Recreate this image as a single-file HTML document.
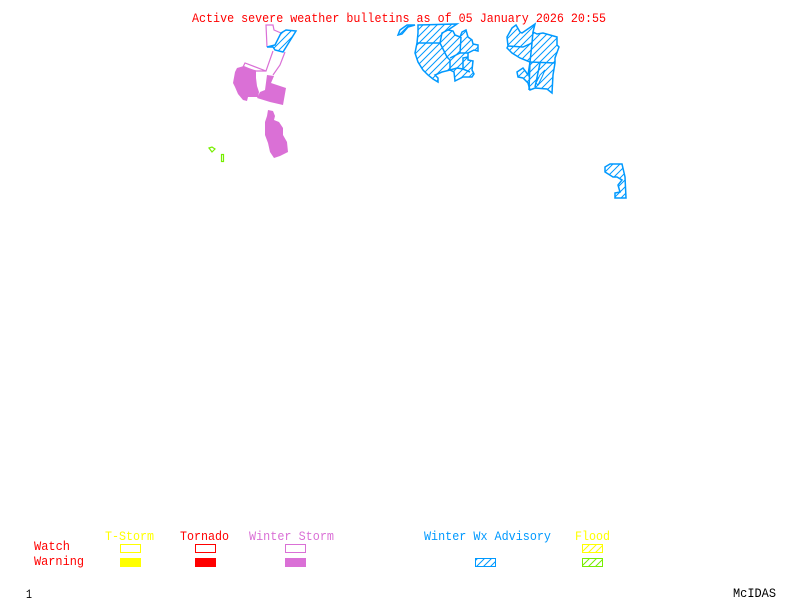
<!DOCTYPE html>
<html><head><meta charset="utf-8"><style>
html,body{margin:0;padding:0;background:#fff;width:800px;height:600px;overflow:hidden}
svg{display:block}
text{font-family:"Liberation Mono",monospace;font-size:13px}
</style></head><body>
<svg width="800" height="600" viewBox="0 0 800 600" xmlns="http://www.w3.org/2000/svg">
<defs>
<pattern id="b" width="7" height="7" patternUnits="userSpaceOnUse"><path d="M-1 8L8 -1M-1 1L1 -1M6 8L8 6" stroke="#0099ff" stroke-width="1"/></pattern>
<pattern id="y" width="7" height="7" patternUnits="userSpaceOnUse"><path d="M-1 8L8 -1M-1 1L1 -1M6 8L8 6" stroke="#ffff00" stroke-width="1"/></pattern>
<pattern id="g" width="7" height="7" patternUnits="userSpaceOnUse"><path d="M-1 8L8 -1M-1 1L1 -1M6 8L8 6" stroke="#76ee00" stroke-width="1"/></pattern>
</defs>
<text x="192" y="22" fill="#ff0000" textLength="414" lengthAdjust="spacingAndGlyphs">Active severe weather bulletins as of 05 January 2026 20:55</text>

<!-- Winter storm outline -->
<g fill="none" stroke="#da70d6" stroke-width="1.2">
<path d="M267 47L266 25L273 25L274 30L281 33M273 51L266 71L245 63L243 67L256 71L266 71M285 52L280 65L273 75"/>
</g>
<g fill="#da70d6">
<polygon points="233,83 235,72 237,68 244,66 256,71 256,78 257,86 259,92 258,97 248,97 247,101 243,100 238,94 235,87"/>
<polygon points="267,75 274,76 271,83 286,88 283,105 270,102 257,98 260,92 265,90"/>
<polygon points="268,110 273,111 275,116 274,120 279,122 283,128 283,135 287,142 288,152 280,156 274,158 270,152 268,143 265,135 265,122 267,116"/>
</g>

<!-- Winter advisories -->
<g fill="url(#b)" stroke="#0099ff" stroke-width="1.5">
<polygon points="267,47 275,45 281,33 286,30 296,31 283,52 275,50 273,47"/>
<polygon points="398,35 400,30 407,25 415,25 408,27 402,34"/>
<polygon points="418,25 457,24 448,30 453,31 455,35 460,37 462,32 466,30 468,37 472,40 473,44 478,45 478,51 474,50 468,53 468,60 473,61 472,70 474,74 472,77 463,77 455,81 454,72 450,70 442,72 435,75 438,78 438,82 433,79 428,75 423,70 418,62 415,53 417,43 418,33"/>
<polygon points="507,37 512,28 516,25 520,32 522,33 535,24 533,32 537,34 543,33 557,37 557,45 559,47 555,58 555,63 553,75 552,93 547,89 535,88 530,90 528,83 523,78 518,77 517,72 523,68 526,72 528,75 530,62 520,58 512,53 507,48 508,46"/>
<polygon points="605,167 610,164 622,164 625,177 626,198 615,198 615,193 620,192 618,185 622,180 617,177 613,177 605,172"/>
</g>
<g fill="none" stroke="#0099ff" stroke-width="1.5">
<path d="M417 43L440 43L442 33L448 30M440 43L447 57L450 60L450 70M450 58L460 53L461 37M460 53L468 53M450 70L457 68L463 69L470 72M463 69L463 58L468 57"/>
<path d="M508 46L523 47L532 43L533 32M532 43L530 62L529 90M530 62L555 63M540 63L539 68L535 87"/>
</g>
<polygon points="536,83 540,75 545,70 542,77 538,85" fill="#fff" stroke="#0099ff" stroke-width="1"/>

<!-- Flood -->
<g fill="none" stroke="#76ee00" stroke-width="1.2">
<polygon points="209,148 212,147 215,149 212,152"/>
<rect x="221.5" y="154.5" width="2" height="7"/>
</g>

<!-- Legend -->
<text x="105" y="540" fill="#ffff00" textLength="49" lengthAdjust="spacingAndGlyphs">T-Storm</text>
<text x="180" y="540" fill="#ff0000" textLength="49" lengthAdjust="spacingAndGlyphs">Tornado</text>
<text x="249" y="540" fill="#da70d6" textLength="85" lengthAdjust="spacingAndGlyphs">Winter Storm</text>
<text x="424" y="540" fill="#0099ff" textLength="127" lengthAdjust="spacingAndGlyphs">Winter Wx Advisory</text>
<text x="575" y="540" fill="#ffff00" textLength="35" lengthAdjust="spacingAndGlyphs">Flood</text>
<text x="34" y="550" fill="#ff0000" textLength="36" lengthAdjust="spacingAndGlyphs">Watch</text>
<text x="34" y="565" fill="#ff0000" textLength="50" lengthAdjust="spacingAndGlyphs">Warning</text>

<rect x="120.5" y="544.5" width="20" height="8" fill="none" stroke="#ffff00"/>
<rect x="195.5" y="544.5" width="20" height="8" fill="none" stroke="#ff0000"/>
<rect x="285.5" y="544.5" width="20" height="8" fill="none" stroke="#da70d6"/>
<rect x="582.5" y="544.5" width="20" height="8" fill="url(#y)" stroke="#ffff00"/>
<rect x="120" y="558" width="21" height="9" fill="#ffff00"/>
<rect x="195" y="558" width="21" height="9" fill="#ff0000"/>
<rect x="285" y="558" width="21" height="9" fill="#da70d6"/>
<rect x="475.5" y="558.5" width="20" height="8" fill="url(#b)" stroke="#0099ff"/>
<rect x="582.5" y="558.5" width="20" height="8" fill="url(#g)" stroke="#76ee00"/>

<text x="26" y="598" fill="#000" textLength="6" lengthAdjust="spacingAndGlyphs">1</text>
<text x="733" y="597" fill="#000" textLength="43" lengthAdjust="spacingAndGlyphs">McIDAS</text>
</svg>
</body></html>
